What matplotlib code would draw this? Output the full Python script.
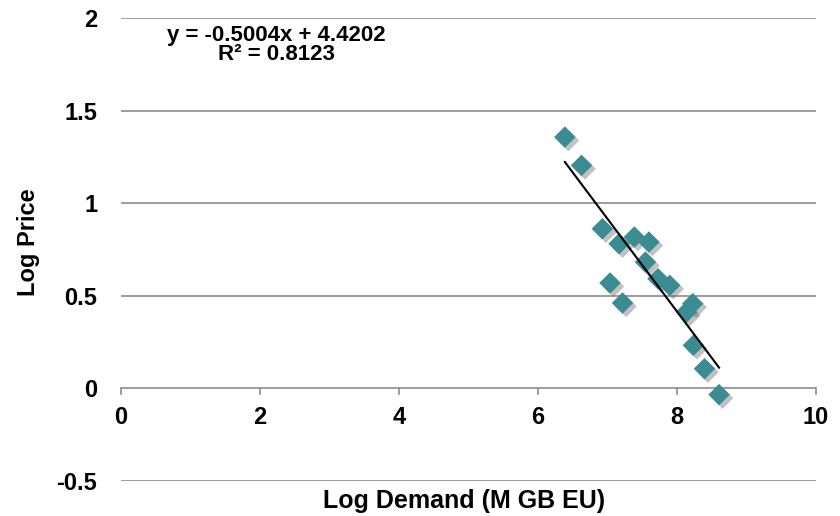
import numpy as np
import matplotlib
matplotlib.use('Agg')
import matplotlib.pyplot as plt
import matplotlib.patheffects as pe

# values
log_demand = [6.39, 6.63, 6.93, 7.17, 7.39, 7.60, 7.55, 7.73, 7.90,
              7.04, 7.22, 8.23, 8.14, 8.24, 8.40, 8.61]
log_price = [1.357, 1.204, 0.862, 0.781, 0.817, 0.790, 0.682, 0.592, 0.556,
             0.569, 0.461, 0.457, 0.412, 0.232, 0.106, -0.034]

slope = -0.5004
intercept = 4.4202
r_squared = 0.8123

x_ticks = [0, 2, 4, 6, 8, 10]
y_ticks = [-0.5, 0, 0.5, 1, 1.5, 2]
y_tick_labels = ['-0.5', '0', '0.5', '1', '1.5', '2']

FS = 17

plt.rcParams['font.family'] = ['Liberation Sans', 'DejaVu Sans']
plt.rcParams['font.weight'] = 'bold'

fig = plt.figure(figsize=(8.4, 5.16), dpi=100)
ax = fig.add_axes([0.144, 0.068, 0.827, 0.897])

ax.set_xlim(0, 10)
ax.set_ylim(-0.5, 2)

# horizontal gridlines
for yv in y_ticks:
    if yv != 0:
        ax.axhline(yv, color='#8c8c8c', lw=1.2, zorder=1)

for s in ['top', 'right', 'left', 'bottom']:
    ax.spines[s].set_visible(False)

# x axis drawn at y = 0
ax.axhline(0, color='#8c8c8c', lw=1.2, zorder=1)
for xv in x_ticks:
    ax.plot([xv, xv], [0, -0.028], color='#8c8c8c', lw=1.2, zorder=1,
            clip_on=False)
    ax.text(xv, -0.095, str(xv), ha='center', va='top', fontsize=FS,
            fontweight='bold')

ax.set_xticks([])
ax.set_yticks(y_ticks)
ax.set_yticklabels(y_tick_labels, fontsize=FS, fontweight='bold')
ax.tick_params(axis='y', length=0, pad=17)

# data
ax.scatter(log_demand, log_price, marker='D', s=120, color='#3a8c92',
           edgecolors='none', zorder=3,
           path_effects=[pe.SimplePatchShadow(offset=(2.5, -2.5),
                                              shadow_rgbFace='#666666',
                                              alpha=0.4),
                         pe.Normal()])

# linear trendline
xs = np.array([min(log_demand), max(log_demand)])
ax.plot(xs, slope * xs + intercept, color='black', lw=1.5, zorder=4)

fig.text(276 / 840, 1 - 41 / 516, 'y = %.4fx + %.4f' % (slope, intercept),
         ha='center', va='baseline', fontsize=16, fontweight='bold')
fig.text(276 / 840, 1 - 60 / 516, 'R² = %.4f' % r_squared,
         ha='center', va='baseline', fontsize=16, fontweight='bold')

fig.text(29 / 840, 1 - 242 / 516, 'Log Price', rotation=90, ha='center',
         va='center', fontsize=FS, fontweight='bold')
fig.text(464 / 840, 1 - 501 / 516, 'Log Demand (M GB EU)', ha='center',
         va='center', fontsize=18, fontweight='bold')

fig.savefig('out.png', dpi=100)
